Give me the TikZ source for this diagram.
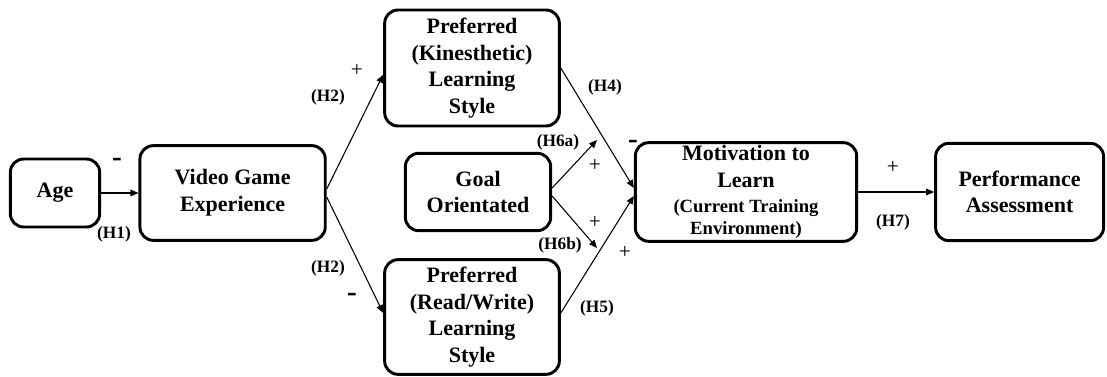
\documentclass[tikz,border=0pt]{standalone}
\usepackage{fontspec}
\setmainfont{Liberation Serif}
\usetikzlibrary{arrows.meta, positioning}
\tikzset{
  every picture/.style={line width=0.8pt},
  box/.style={draw, line width=2.2pt, rounded corners=10pt, align=center, inner sep=2pt, font=\bfseries\fontsize{16.5}{20}\selectfont},
  arrow/.style={-{Triangle[length=6pt, width=5pt]}, line width=0.8pt},
  note/.style={font=\bfseries\fontsize{13}{15}\selectfont, inner sep=0pt},
  sign/.style={font=\fontsize{16}{18}\selectfont, inner sep=0pt},
  minus/.style={font=\bfseries\fontsize{22}{24}\selectfont, inner sep=0pt},
}

\begin{document}
\begin{tikzpicture}[x=0.75pt, y=-0.75pt]
  \useasboundingbox (0,0) rectangle (1107,377);
  % left: age and game experience
  \node[box, minimum width=67pt, minimum height=51pt] (age) at (55,193) {Age};
  \node[box, right=28pt of age, minimum width=139pt, minimum height=71pt] (vge) {Video Game\\Experience};
  % middle: learning styles and goal orientation
  \node[box, minimum width=131pt, minimum height=87pt] (kin) at (472,68) {Preferred\\(Kinesthetic)\\Learning\\Style};
  \node[box, minimum width=109pt, minimum height=58pt] (goal) at (478,192) {Goal\\Orientated};
  \node[box, minimum width=131pt, minimum height=86pt] (rw) at (472,317) {Preferred\\(Read/Write)\\Learning\\Style};
  % right: motivation and performance
  \node[box, minimum width=166pt, minimum height=74pt] (mot) at (746,192) {Motivation to\\Learn\\[-1pt]{\fontsize{14}{16}\selectfont (Current Training}\\[-4pt]{\fontsize{14}{16}\selectfont Environment)}};
  \node[box, right=57pt of mot, minimum width=126pt, minimum height=73pt] (perf) {Performance\\Assessment};
  \coordinate (h6a) at (597,140);
  \coordinate (h6b) at (597,248);
  % connectors
  \draw[arrow] (age) -- (vge);
  \draw[arrow] ([yshift=3pt]vge.east) -- ([yshift=-5pt]kin.west);
  \draw[arrow] ([yshift=-3pt]vge.east) -- ([yshift=3pt]rw.west);
  \draw[arrow] (kin.east) -- ([yshift=3pt]mot.west);
  \draw[arrow] ([yshift=3pt]rw.east) -- ([yshift=-3pt]mot.west);
  \draw[arrow] ([yshift=3pt]goal.east) -- (h6a);
  \draw[arrow] ([yshift=-3pt]goal.east) -- (h6b);
  \draw[arrow] (mot) -- (perf);
  % hypothesis labels
  \node[minus] (s1) at (117,162) {-};
  \node[note] (l1) at (114,234) {(H1)};
  \node[sign] (s2a) at (357,70) {+};
  \node[note] (l2a) at (328,97) {(H2)};
  \node[note] (l2b) at (328,268) {(H2)};
  \node[minus] (s2b) at (352,297) {-};
  \node[note] (l4) at (605,87) {(H4)};
  \node[minus] (s4) at (633,144) {-};
  \node[note] (l6a) at (558,142) {(H6a)};
  \node[sign] (s6a) at (595,165) {+};
  \node[sign] (s6b) at (595,222) {+};
  \node[note] (l6b) at (560,245) {(H6b)};
  \node[sign] (s5) at (625,252) {+};
  \node[note] (l5) at (597,308) {(H5)};
  \node[sign] (s7) at (893,167) {+};
  \node[note] (l7) at (893,222) {(H7)};
\end{tikzpicture}
\end{document}
